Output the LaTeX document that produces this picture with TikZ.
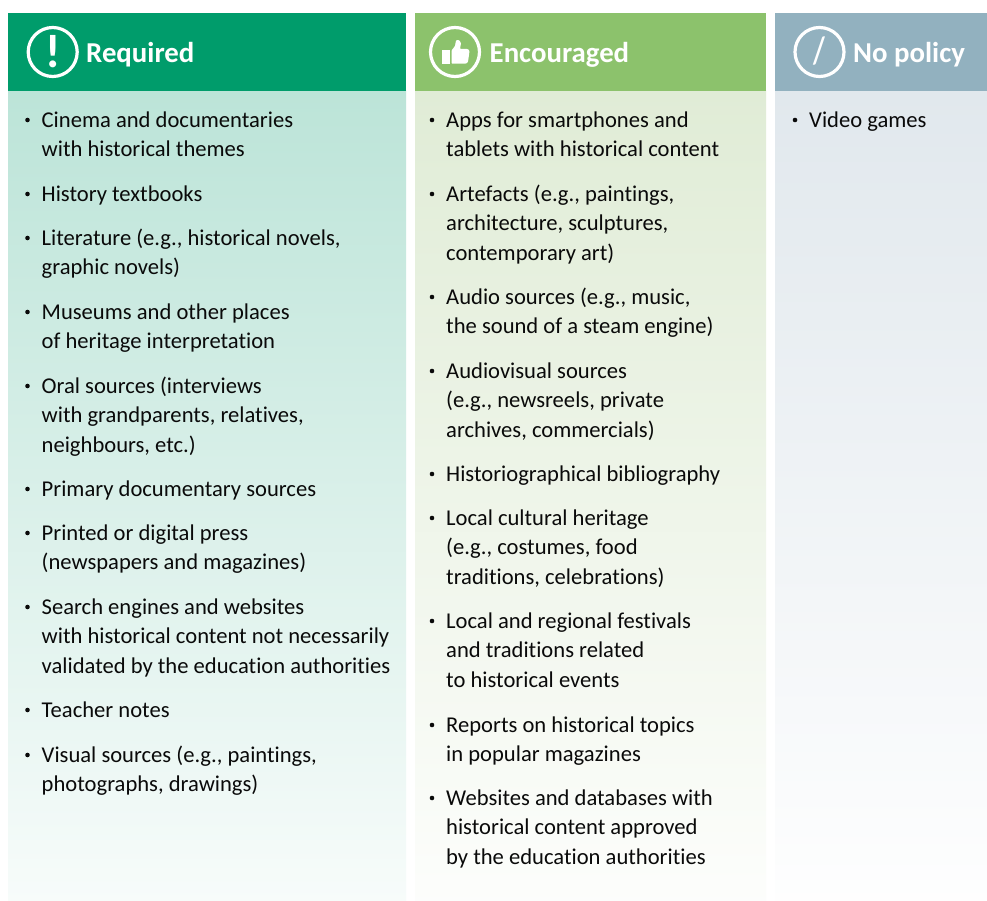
\documentclass[tikz,border=0pt]{standalone}
\usepackage{fontspec}
\setmainfont[Ligatures=NoCommon]{Carlito}
\usetikzlibrary{shapes.geometric}
\definecolor{reqH}{HTML}{009C6B}
\definecolor{reqL}{HTML}{BCE4D8}
\definecolor{encH}{HTML}{8CC26C}
\definecolor{encL}{HTML}{E0ECD6}
\definecolor{nopH}{HTML}{92B1BF}
\definecolor{nopL}{HTML}{E1E8ED}
\definecolor{ink}{HTML}{0A0A0A}
\tikzset{
  headtext/.style={anchor=base west,inner sep=0pt,text=white,font=\fontsize{28.8}{32}\selectfont\bfseries},
  iconring/.style={circle,draw=white,line width=3.2pt,fill=none,inner sep=0pt,minimum size=49pt},
  entry/.style={anchor=base west,inner sep=0pt,align=left,text=ink,font=\fontsize{22.6}{29.4}\selectfont},
  dot/.style={circle,fill=ink,inner sep=0pt,minimum size=4.6pt},
}
% name, x, first baseline, number of lines, text
\newcommand{\bulletitem}[5]{%
  \node[entry] (t#1) at (#2,#3+#4*29.4-29.4+0.4) {#5};
  \node[dot] (d#1) at (#2-14,#3-7) {};
}
\begin{document}
\begin{tikzpicture}[x=1pt,y=-1pt]
\useasboundingbox (0,0) rectangle (987,901);
\fill[white] (0,0) rectangle (987,901);
% columns
\shade[top color=reqL,bottom color=reqL!12!white] (8,91) rectangle (406,901);
\shade[top color=encL,bottom color=encL!8!white] (415,91) rectangle (766,901);
\shade[top color=nopL,bottom color=nopL!4!white] (775,91) rectangle (987,901);
\fill[reqH] (8,13) rectangle (406,91);
\fill[encH] (415,13) rectangle (766,91);
\fill[nopH] (775,13) rectangle (987,91);
% headers
\node[iconring] (ic1) at (52.7,52) {};
\node[anchor=center,inner sep=0pt,text=white,font=\fontsize{47}{47}\selectfont\bfseries] (ex) at (52.7,52) {!};
\node[headtext] (h1) at (86,62.5) {Required};
\node[iconring] (ic2) at (455,52) {};
\fill[white] (441.7,49.7) rectangle (450,63.7);
\fill[white,rounded corners=0.8pt] (451.5,50.5) -- (455,46) -- (456,40.3) -- (459,40) -- (461,43) -- (460,49) -- (468,49)
  -- (469.5,51) -- (468,62) -- (466,63.7) -- (451.5,63.7) -- cycle;
\node[headtext] (h2) at (489.5,62.5) {Encouraged};
\node[iconring] (ic3) at (819.5,52) {};
\node[anchor=center,inner sep=0pt,text=white,font=\fontsize{38}{38}\selectfont\bfseries] (sl) at (819.5,51.5) {\scalebox{0.72}[1]{/}};
\node[headtext] (h3) at (853,62.5) {No policy};
% column 1
\bulletitem{a1}{41.5}{127}{2}{Cinema and documentaries\\with historical themes}
\bulletitem{a2}{41.5}{201}{1}{History textbooks}
\bulletitem{a3}{41.5}{245}{2}{Literature (e.g., historical novels,\\graphic novels)}
\bulletitem{a4}{41.5}{319}{2}{Museums and other places\\of heritage interpretation}
\bulletitem{a5}{41.5}{393}{3}{Oral sources (interviews\\with grandparents, relatives,\\neighbours, etc.)}
\bulletitem{a6}{41.5}{496}{1}{Primary documentary sources}
\bulletitem{a7}{41.5}{540}{2}{Printed or digital press\\(newspapers and magazines)}
\bulletitem{a8}{41.5}{614}{3}{Search engines and websites\\with historical content not necessarily\\validated by the education authorities}
\bulletitem{a9}{41.5}{717}{1}{Teacher notes}
\bulletitem{a10}{41.5}{762}{2}{Visual sources (e.g., paintings,\\photographs, drawings)}
% column 2
\bulletitem{b1}{446}{127}{2}{Apps for smartphones and\\tablets with historical content}
\bulletitem{b2}{446}{201}{3}{Artefacts (e.g., paintings,\\architecture, sculptures,\\contemporary art)}
\bulletitem{b3}{446}{304}{2}{Audio sources (e.g., music,\\the sound of a steam engine)}
\bulletitem{b4}{446}{378}{3}{Audiovisual sources\\(e.g., newsreels, private\\archives, commercials)}
\bulletitem{b5}{446}{481}{1}{Historiographical bibliography}
\bulletitem{b6}{446}{525}{3}{Local cultural heritage\\(e.g., costumes, food\\traditions, celebrations)}
\bulletitem{b7}{446}{628}{3}{Local and regional festivals\\and traditions related\\to historical events}
\bulletitem{b8}{446}{732}{2}{Reports on historical topics\\in popular magazines}
\bulletitem{b9}{446}{805}{3}{Websites and databases with\\historical content approved\\by the education authorities}
% column 3
\bulletitem{c1}{809}{127}{1}{Video games}
\end{tikzpicture}
\end{document}
